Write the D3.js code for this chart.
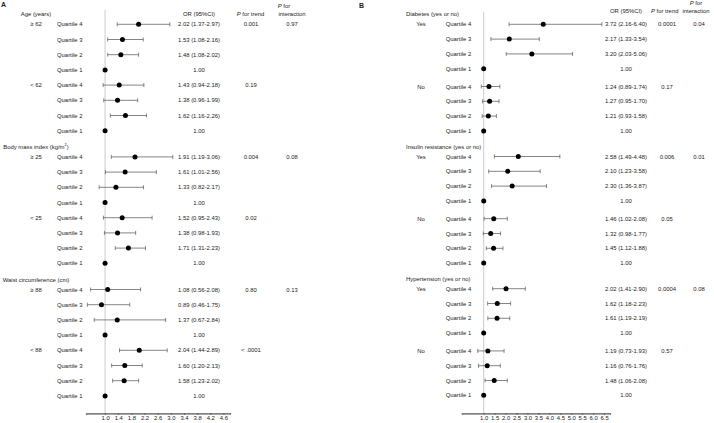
<!DOCTYPE html>
<html>
<head>
<meta charset="utf-8">
<script src="https://cdn.jsdelivr.net/npm/d3@7"></script>
<style>
  body { margin: 0; background: #fff; }
  svg text { font-family: "Liberation Sans", Arial, sans-serif; fill: #222; }
</style>
</head>
<body>
<div id="chart"></div>
<script>
// ---- data: panel A ----
const quartiles = ['Quartile 4', 'Quartile 3', 'Quartile 2', 'Quartile 1'];

const groupsA = ['Age (years)', 'Body mass index (kg/m2)', 'Waist circumference (cm)'];
const subgroupsA = ['\u2265 62', '< 62', '\u2265 25', '< 25', '\u2265 88', '< 88'];
// OR, lower, upper per row, Quartile 4 .. Quartile 1 inside each subgroup
const orA = [2.02, 1.53, 1.48, 1.00, 1.43, 1.38, 1.62, 1.00,
             1.91, 1.61, 1.33, 1.00, 1.52, 1.38, 1.71, 1.00,
             1.08, 0.89, 1.37, 1.00, 2.04, 1.60, 1.58, 1.00];
const lowA = [1.37, 1.08, 1.08, null, 0.94, 0.96, 1.16, null,
              1.19, 1.01, 0.82, null, 0.95, 0.98, 1.31, null,
              0.56, 0.46, 0.67, null, 1.44, 1.20, 1.23, null];
const highA = [2.97, 2.16, 2.02, null, 2.18, 1.99, 2.26, null,
               3.06, 2.56, 2.17, null, 2.43, 1.93, 2.23, null,
               2.08, 1.75, 2.84, null, 2.89, 2.13, 2.02, null];
const trendA = ['0.001', '0.19', '0.004', '0.02', '0.80', '< .0001'];
const interA = ['0.97', '0.08', '0.13'];
const ticksA = [1.0, 1.4, 1.8, 2.2, 2.6, 3.0, 3.4, 3.8, 4.2, 4.6];

// ---- data: panel B ----
const groupsB = ['Diabetes (yes or no)', 'Insulin resistance (yes or no)', 'Hypertension (yes or no)'];
const subgroupsB = ['Yes', 'No', 'Yes', 'No', 'Yes', 'No'];
const orB = [3.72, 2.17, 3.20, 1.00, 1.24, 1.27, 1.21, 1.00,
             2.58, 2.10, 2.30, 1.00, 1.46, 1.32, 1.45, 1.00,
             2.02, 1.62, 1.61, 1.00, 1.19, 1.16, 1.48, 1.00];
const lowB = [2.16, 1.33, 2.03, null, 0.89, 0.95, 0.93, null,
              1.49, 1.23, 1.36, null, 1.02, 0.98, 1.12, null,
              1.41, 1.18, 1.19, null, 0.73, 0.76, 1.06, null];
const highB = [6.40, 3.54, 5.06, null, 1.74, 1.70, 1.58, null,
               4.48, 3.58, 3.87, null, 2.08, 1.77, 1.88, null,
               2.90, 2.23, 2.19, null, 1.93, 1.76, 2.08, null];
const trendB = ['0.0001', '0.17', '0.006', '0.05', '0.0004', '0.57'];
const interB = ['0.04', '0.01', '0.08'];
const ticksB = [1.0, 1.5, 2.0, 2.5, 3.0, 3.5, 4.0, 4.5, 5.0, 5.5, 6.0, 6.5];

const width = 714, height = 423;
const fs = 5.9;

const svg = d3.select('#chart').append('svg')
  .attr('width', width)
  .attr('height', height);

const fmt = d3.format('.2f');

function drawPanel(cfg) {
  const g = svg.append('g');

  // x scale for odds ratios
  const x = d3.scaleLinear().domain(cfg.domain).range(cfg.range);

  // rows: index r, subgroup s, group k
  const rows = cfg.or.map((v, i) => ({
    or: v, lo: cfg.low[i], hi: cfg.high[i],
    r: i, s: Math.floor(i / 4), k: Math.floor(i / 8), q: quartiles[i % 4]
  }));
  const yRow = d => cfg.y0 + d.r * cfg.step + d.s * cfg.subGap + d.k * cfg.groupGap;

  // panel letter
  g.append('text').attr('x', cfg.letterX).attr('y', cfg.letterY)
    .attr('font-size', 7).attr('font-weight', 'bold').text(cfg.letter);

  // column headers
  g.append('text').attr('x', cfg.orX).attr('y', cfg.headY)
    .attr('font-size', fs).attr('text-anchor', 'middle').text('OR (95%CI)');
  const pt = g.append('text').attr('x', cfg.trendHeadX).attr('y', cfg.headY)
    .attr('font-size', fs).attr('text-anchor', 'middle');
  pt.append('tspan').attr('font-style', 'italic').text('P');
  pt.append('tspan').text(' for trend');
  const pi = g.append('text').attr('x', cfg.interHeadX).attr('y', cfg.headY - 8)
    .attr('font-size', fs).attr('text-anchor', 'middle');
  pi.append('tspan').attr('font-style', 'italic').text('P');
  pi.append('tspan').text(' for');
  g.append('text').attr('x', cfg.interX2).attr('y', cfg.headY)
    .attr('font-size', fs).attr('text-anchor', 'middle').text('interaction');

  // reference line at OR = 1
  g.append('line')
    .attr('x1', x(1)).attr('x2', x(1))
    .attr('y1', cfg.refTop).attr('y2', cfg.axisY)
    .attr('stroke', '#bbb').attr('stroke-width', 0.8);

  // group headers
  cfg.groups.forEach((name, k) => {
    const first = rows[k * 8];
    const t = g.append('text')
      .attr('x', cfg.groupX).attr('y', yRow(first) - 10 + 2)
      .attr('font-size', fs).attr('text-anchor', cfg.groupAnchor);
    if (name.endsWith('m2)')) {
      t.append('tspan').text(name.slice(0, -2));
      t.append('tspan').attr('dy', -2.5).attr('font-size', 4).text('2');
      t.append('tspan').attr('dy', 2.5).text(')');
    } else {
      t.text(name);
    }
  });

  // subgroup labels, p values
  cfg.subgroups.forEach((name, s) => {
    const first = rows[s * 4];
    const yy = yRow(first) + 2;
    g.append('text').attr('x', cfg.subX).attr('y', yy)
      .attr('font-size', fs).attr('text-anchor', 'middle').text(name);
    g.append('text').attr('x', cfg.trendX).attr('y', yy)
      .attr('font-size', fs).attr('text-anchor', 'middle').text(cfg.trend[s]);
    if (s % 2 === 0) {
      g.append('text').attr('x', cfg.interX).attr('y', yy)
        .attr('font-size', fs).attr('text-anchor', 'middle').text(cfg.inter[s / 2]);
    }
  });

  // quartile labels + OR text
  g.selectAll('.qlab').data(rows).join('text')
    .attr('class', 'qlab')
    .attr('x', cfg.quartX).attr('y', d => yRow(d) + 2)
    .attr('font-size', fs)
    .text(d => d.q);

  g.selectAll('.ortxt').data(rows).join('text')
    .attr('class', 'ortxt')
    .attr('x', cfg.orX).attr('y', d => yRow(d) + 2)
    .attr('font-size', fs).attr('text-anchor', 'middle')
    .text(d => d.lo == null ? fmt(d.or) : `${fmt(d.or)} (${fmt(d.lo)}-${fmt(d.hi)})`);

  // confidence intervals
  const ci = rows.filter(d => d.lo != null);
  g.selectAll('.ci').data(ci).join('line')
    .attr('class', 'ci')
    .attr('x1', d => x(d.lo)).attr('x2', d => x(d.hi))
    .attr('y1', yRow).attr('y2', yRow)
    .attr('stroke', '#666').attr('stroke-width', 0.8);
  ['lo', 'hi'].forEach(key => {
    g.selectAll('.cap-' + key).data(ci).join('line')
      .attr('class', 'cap-' + key)
      .attr('x1', d => x(d[key])).attr('x2', d => x(d[key]))
      .attr('y1', d => yRow(d) - 2).attr('y2', d => yRow(d) + 2)
      .attr('stroke', '#666').attr('stroke-width', 0.8);
  });

  // points
  g.selectAll('.pt').data(rows).join('circle')
    .attr('class', 'pt')
    .attr('cx', d => x(d.or)).attr('cy', yRow)
    .attr('r', 2.5).attr('fill', '#000');

  // x axis
  const axis = d3.axisBottom(x).tickValues(cfg.ticks).tickFormat(d3.format('.1f'))
    .tickSize(1.5).tickPadding(1.5);
  const ax = g.append('g')
    .attr('transform', `translate(0,${cfg.axisY})`)
    .call(axis);
  ax.select('.domain').attr('stroke', '#555').attr('stroke-width', 1.2);
  ax.selectAll('.tick line').attr('stroke', '#555');
  ax.selectAll('.tick text').attr('font-size', fs).attr('fill', '#222')
    .attr('font-family', '"Liberation Sans", Arial, sans-serif');
}

drawPanel({
  letter: 'A', letterX: 1, letterY: 7,
  groups: groupsA, subgroups: subgroupsA,
  or: orA, low: lowA, high: highA, trend: trendA, inter: interA, ticks: ticksA,
  domain: [0.42, 4.8], range: [86, 230],
  y0: 24.3, step: 15.2, subGap: 0, groupGap: 11,
  groupX: 36, groupAnchor: 'middle', subX: 36, quartX: 57,
  orX: 199, trendX: 251, trendHeadX: 250.5, interX: 292, interHeadX: 284, interX2: 292,
  headY: 15.7, refTop: 10, axisY: 413.3
});

drawPanel({
  letter: 'B', letterX: 359, letterY: 8,
  groups: groupsB, subgroups: subgroupsB,
  or: orB, low: lowB, high: highB, trend: trendB, inter: interB, ticks: ticksB,
  domain: [0, 6.77], range: [461.8, 610],
  y0: 24.3, step: 14.8, subGap: 3, groupGap: 7.8,
  groupX: 406, groupAnchor: 'start', subX: 421, quartX: 445.7,
  orX: 626, trendX: 667, trendHeadX: 664.7, interX: 699, interHeadX: 696, interX2: 696,
  headY: 13, refTop: 12, axisY: 413.3
});
</script>
</body>
</html>
